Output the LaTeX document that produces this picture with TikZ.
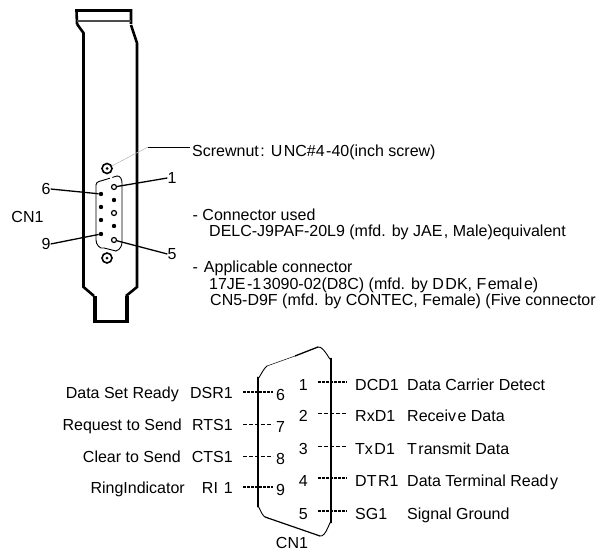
\documentclass[tikz,border=0pt]{standalone}
\usepackage{fontspec}
\setmainfont{Liberation Sans}
\newcommand{\gp}{\kern1.5pt}
\tikzset{
    panel/.style={line width=2.6pt,line join=miter},
    shell/.style={line width=0.9pt,line cap=round},
    pinfull/.style={circle,fill=black,inner sep=0pt,minimum size=4.4pt},
    pinopen/.style={circle,draw=black,fill=white,line width=1.2pt,inner sep=0pt,minimum size=5pt},
    leader/.style={line width=1.3pt},
    stubbold/.style={line width=2.2pt,dash pattern=on 3pt off 1pt},
    stubthin/.style={line width=0.7pt,dash pattern=on 4pt off 2pt},
    txt/.style={font=\fontsize{16}{18}\selectfont,inner sep=0pt},
    note/.style={txt,anchor=base west},
    leftname/.style={txt,anchor=east,text height=13pt,text depth=0pt},
    rightname/.style={txt,anchor=west,text height=17pt,text depth=0pt},
    leftsig/.style={leftname,inner xsep=10pt},
    leftnum/.style={rightname,inner xsep=3pt},
    rightnum/.style={txt,anchor=east,text height=17pt,text depth=0pt,inner xsep=10pt},
    rightsig/.style={rightname,inner xsep=8pt}
}
\begin{document}
\begin{tikzpicture}[x=1pt,y=-1pt]
    \useasboundingbox (0,0) rectangle (600,551);
    \begin{scope}
        \draw[panel] (77,24) -- (76.5,10.5) -- (131,10.5) -- (131,24);
        \draw[line width=1.3pt,black!70] (77,21) -- (131,21);
        \draw[panel] (77,24) -- (83.5,33) -- (83.5,287) -- (94,296);
        \draw[panel] (131,25) -- (137,43) -- (137,287) -- (126,296);
        \draw[line width=4pt] (94.5,296) -- (94.5,322);
        \draw[line width=4pt] (126.5,296) -- (126.5,322);
        \draw[line width=2.6pt] (92.5,321.5) -- (128.5,321.5);
    \end{scope}
    \begin{scope}
        \draw[shell] (96,185) to [out=90,in=200] (104,180);
        \draw[shell,dash pattern=on 6pt off 3pt] (104,180) -- (117,176);
        \draw[shell] (117,176) to [out=10,in=90] (122,183) -- (122,242) to [out=-90,in=20] (116,251);
        \draw[shell] (116,251) -- (104,248) to [out=200,in=-90] (96,240) -- (96,185);
        \node[circle,draw=black,line width=1.6pt,inner sep=0pt,minimum size=10pt] (screwtop) at (107,168.5) {};
        \node[circle,draw=black,line width=1.6pt,inner sep=0pt,minimum size=10pt] (screwbot) at (107,258) {};
        \node[pinfull,minimum size=3pt] at (screwtop) {};
        \node[pinfull,minimum size=3pt] at (screwbot) {};
        \node[pinopen] (p1) at (114,187) {};
        \node[pinfull] (p2) at (114,200) {};
        \node[pinopen] (p3) at (114,213) {};
        \node[pinfull] (p4) at (114,226) {};
        \node[pinopen] (p5) at (114,240) {};
        \node[pinfull] (p6) at (101,194) {};
        \node[pinfull] (p7) at (101,207) {};
        \node[pinfull] (p8) at (101,220) {};
        \node[pinfull] (p9) at (101,234) {};
        \node[txt] (lab1) at (172,178) {1};
        \node[txt] (lab5) at (172,254) {5};
        \node[txt] (lab6) at (46,189) {6};
        \node[txt] (lab9) at (46,244) {9};
        \node[txt] (cntop) at (27.5,217) {CN1};
        \draw[leader] (p1) -- (lab1.west);
        \draw[leader] (p5) -- (lab5.west);
        \draw[leader] (lab6.east) -- (p6);
        \draw[leader] (lab9.east) -- (p9);
    \end{scope}
    \node[note] (screwnut) at (192,156) {Screwnut\gp: U\gp NC\#4\gp -40(inch screw)};
    \coordinate (bend) at (148,147);
    \draw[line width=0.5pt,black!30] (screwtop) -- (bend);
    \draw[line width=0.9pt] (bend) -- (190,147);
    \node[note] (used) at (192.5,220) {- Connector used};
    \node[note] (delc) at (209,236.5) {DELC-J9PAF-20L9 (mfd. by JAE\gp, Male)equivalent};
    \node[note] (appl) at (192.5,272.5) {-\gp\ Applicable connector};
    \node[note] (jae) at (209,289) {17JE\gp-1\gp 3090-02(D8C) (mfd. by D\gp DK, F\gp emal\gp e)};
    \node[note] (cnf) at (210,305.5) {CN5-D9F (mfd. by CONTEC, Female) (Five connector};
    \begin{scope}
        \draw[line width=2.4pt] (257.7,377) -- (257.7,507);
        \draw[line width=2.4pt] (331,358) -- (331,523);
        \draw[shell] (257.7,377) to [out=-90,in=215] (267,366);
        \draw[line width=0.5pt] (267,366) -- (295,356);
        \draw[line width=1.3pt] (295,356) -- (318,347);
        \draw[shell] (318,347) to [out=10,in=-90] (331,358);
        \draw[shell] (257.7,507) to [out=90,in=150] (265,517);
        \draw[line width=1.2pt] (265,517) -- (320,536);
        \draw[shell] (320,536) to [out=-15,in=90] (331,523);
    \end{scope}
    \node[leftname] (txt6) at (179,392) {Data Set Ready};
    \node[leftname] (txt7) at (182,424) {Request to Send};
    \node[leftname] (txt8) at (181,456) {Clear to Send};
    \node[leftname] (txt9) at (185,487) {RingIndicator};
    \node[leftsig] (sig6) at (243,392) {DSR1};
    \node[leftsig] (sig7) at (243,424) {RTS1};
    \node[leftsig] (sig8) at (243,456) {CTS1};
    \node[leftsig] (sig9) at (243,487) {RI\gp\ 1};
    \node[leftnum] (num6) at (273,392) {6};
    \node[leftnum] (num7) at (273,424) {7};
    \node[leftnum] (num8) at (273,456) {8};
    \node[leftnum] (num9) at (273,487) {9};
    \draw[stubbold] (sig6.east) -- (num6.west);
    \draw[stubthin] (sig7.east) -- (num7.west);
    \draw[stubthin] (sig8.east) -- (num8.west);
    \draw[stubbold] (sig9.east) -- (num9.west);
    \node[rightnum] (num1) at (318,382) {1};
    \node[rightnum] (num2) at (318,413) {2};
    \node[rightnum] (num3) at (318,446) {3};
    \node[rightnum] (num4) at (318,478) {4};
    \node[rightnum] (num5) at (318,511) {5};
    \node[rightsig] (sig1) at (347,382) {DCD1};
    \node[rightsig] (sig2) at (347,413) {RxD1};
    \node[rightsig] (sig3) at (347,446) {Tx\gp D1};
    \node[rightsig] (sig4) at (347,478) {DT\gp R1};
    \node[rightsig] (sig5) at (347,511) {SG1};
    \draw[stubbold] (num1.east) -- (sig1.west);
    \draw[stubthin] (num2.east) -- (sig2.west);
    \draw[stubthin] (num3.east) -- (sig3.west);
    \draw[stubbold] (num4.east) -- (sig4.west);
    \draw[stubbold] (num5.east) -- (sig5.west);
    \node[rightname] (txt1) at (407,382) {Data Carrier Detect};
    \node[rightname] (txt2) at (407,413) {Receiv\gp e Data};
    \node[rightname] (txt3) at (407,446) {T\gp ransmit Data};
    \node[rightname] (txt4) at (407,478) {Data Terminal Read\gp y};
    \node[rightname] (txt5) at (407,511) {Signal Ground};
    \node[txt] (cnbot) at (292,543) {CN1};
\end{tikzpicture}
\end{document}
